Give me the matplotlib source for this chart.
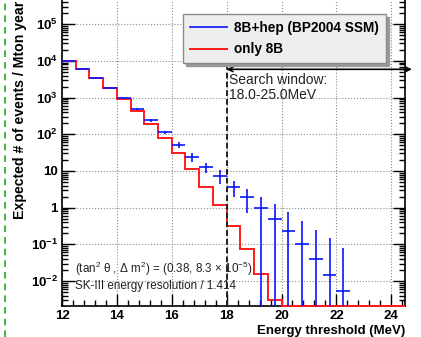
import numpy as np
import matplotlib
matplotlib.use("Agg")
import matplotlib.pyplot as plt
from matplotlib.lines import Line2D
from matplotlib.ticker import MultipleLocator, LogLocator, FixedLocator, NullFormatter

plt.rcParams['font.family'] = ['Liberation Sans', 'DejaVu Sans']
plt.rcParams['mathtext.fontset'] = 'custom'
plt.rcParams['mathtext.rm'] = 'Liberation Sans'
plt.rcParams['mathtext.it'] = 'Liberation Sans:italic'
plt.rcParams['mathtext.bf'] = 'Liberation Sans:bold'

# bin edges (MeV)
edges = np.arange(12.0, 24.51, 0.5)

# only 8B histogram (events / Mton year), one value per bin
only_8b = [10000, 6000, 3400, 1850, 900, 430, 195, 81, 31, 11, 3.7, 1.2,
           0.31, 0.074, 0.016, 0.003, 0, 0, 0, 0, 0, 0, 0, 0, 0]

# 8B+hep points with statistical errors
hep_x = [12.25, 12.75, 13.25, 13.75, 14.25, 14.75, 15.25, 15.75, 16.25, 16.75,
         17.25, 17.75, 18.25, 18.75, 19.25, 19.75, 20.25, 20.75, 21.25, 21.75, 22.25]
hep_y = [10000, 6200, 3400, 1850, 1000, 490, 240, 112, 52, 24,
         13, 7.4, 3.7, 2.0, 0.95, 0.49, 0.23, 0.10, 0.04, 0.015, 0.0054]
hep_err = [120, 95, 70, 52, 38, 27, 19, 13, 9, 6.5,
           4, 3, 1.8, 1.3, 0.98, 0.74, 0.51, 0.33, 0.21, 0.13, 0.076]

xticks = [12, 14, 16, 18, 20, 22, 24]
ydecades = [-2, -1, 0, 1, 2, 3, 4, 5]
ylabels = [r'$\mathbf{10^{-2}}$', r'$\mathbf{10^{-1}}$', '1', '10',
           r'$\mathbf{10^{2}}$', r'$\mathbf{10^{3}}$', r'$\mathbf{10^{4}}$', r'$\mathbf{10^{5}}$']

ymin, ymax = 10 ** -2.68, 10 ** 5.66

fig = plt.figure(figsize=(4.21, 3.37), dpi=100)
ax = fig.add_axes([62 / 421, 1 - 306 / 337, 343 / 421, 306 / 337])
ax.set_yscale('log')
ax.set_xlim(12, 24.5)
ax.set_ylim(ymin, ymax)

ax.grid(True, which='major', color='#8c8c8c', linestyle=':', linewidth=0.8)
ax.set_axisbelow(True)

ax.stairs(np.clip(only_8b, ymin, None), edges, baseline=None, color='#ff1a1a',
          linewidth=1.4, zorder=3, clip_on=False)
ax.errorbar(hep_x, hep_y, xerr=0.25, yerr=hep_err, fmt='none', ecolor='#0a14ff',
            elinewidth=1.2, capsize=0, zorder=4)

# search window
ax.plot([18, 18], [ymin, 1.1e4], color='#222222', linestyle=(0, (3, 1.5)),
        linewidth=1.4, zorder=5)
ax.annotate('', xy=(24.75, 5900), xytext=(18, 5900),
            arrowprops=dict(arrowstyle='<->', color='black', linewidth=1.2,
                            mutation_scale=8, shrinkA=0, shrinkB=0),
            annotation_clip=False, zorder=6)
ax.text(18.1, 1850, 'Search window:\n18.0-25.0MeV', fontsize=10, va='center',
        ha='left', linespacing=1.12, color='#222222')

ax.text(12.47, 0.021, r'(tan$^{2}$ θ , Δ m$^{2}$) = (0.38, 8.3 × 10$^{-5}$)',
        fontsize=8.4, color='#222222', va='center')
ax.text(12.47, 0.0072, 'SK-III energy resolution / 1.414', fontsize=8.4,
        color='#222222', va='center')

ax.xaxis.set_major_locator(FixedLocator(xticks))
ax.xaxis.set_minor_locator(MultipleLocator(0.4))
ax.yaxis.set_major_locator(FixedLocator([10.0 ** d for d in ydecades]))
ax.yaxis.set_minor_locator(LogLocator(base=10, subs=np.arange(2, 10)))
ax.yaxis.set_minor_formatter(NullFormatter())
ax.set_yticklabels(ylabels)
ax.set_xticklabels([str(t) for t in xticks])
ax.tick_params(which='both', direction='in', right=True, top=False, width=1.0)
ax.tick_params(which='major', length=9, labelsize=9.5, pad=3)
ax.tick_params(which='minor', length=4.5)
for lab in ax.get_xticklabels() + ax.get_yticklabels():
    lab.set_fontweight('bold')
for sp in ax.spines.values():
    sp.set_linewidth(1.2)
ax.spines['top'].set_visible(False)

leg = ax.legend(handles=[Line2D([], [], color='#0a14ff', linewidth=1.2),
                         Line2D([], [], color='#ff1a1a', linewidth=1.4)],
                labels=['8B+hep (BP2004 SSM)', 'only 8B'],
                loc='upper left', bbox_to_anchor=(0.352, 0.954),
                prop={'weight': 'bold', 'size': 9.8}, frameon=True, fancybox=False,
                shadow={'color': '#9a9a9a', 'alpha': 1.0}, borderaxespad=0,
                handlelength=2.75, handletextpad=0.55, labelspacing=0.55,
                borderpad=0.5)
leg.get_frame().set_facecolor('#eeeeee')
leg.get_frame().set_edgecolor('#8a8a8a')
leg.get_frame().set_linewidth(1.0)
leg.set_zorder(10)

fig.text(405 / 421, 1 - 325 / 337, 'Energy threshold (MeV)', fontsize=9.5,
         fontweight='bold', ha='right', va='top')
fig.text(20 / 421, 0.997, 'Expected # of events / Mton year', fontsize=10.2,
         fontweight='bold', rotation=90, ha='center', va='top')

# green dashed frame edge on the left
fig.add_artist(Line2D([5 / 421, 5 / 421], [0, 1], transform=fig.transFigure,
                      color='#22aa22', linestyle=(0, (4, 3)), linewidth=1.2))

fig.savefig('out.png', dpi=100)
